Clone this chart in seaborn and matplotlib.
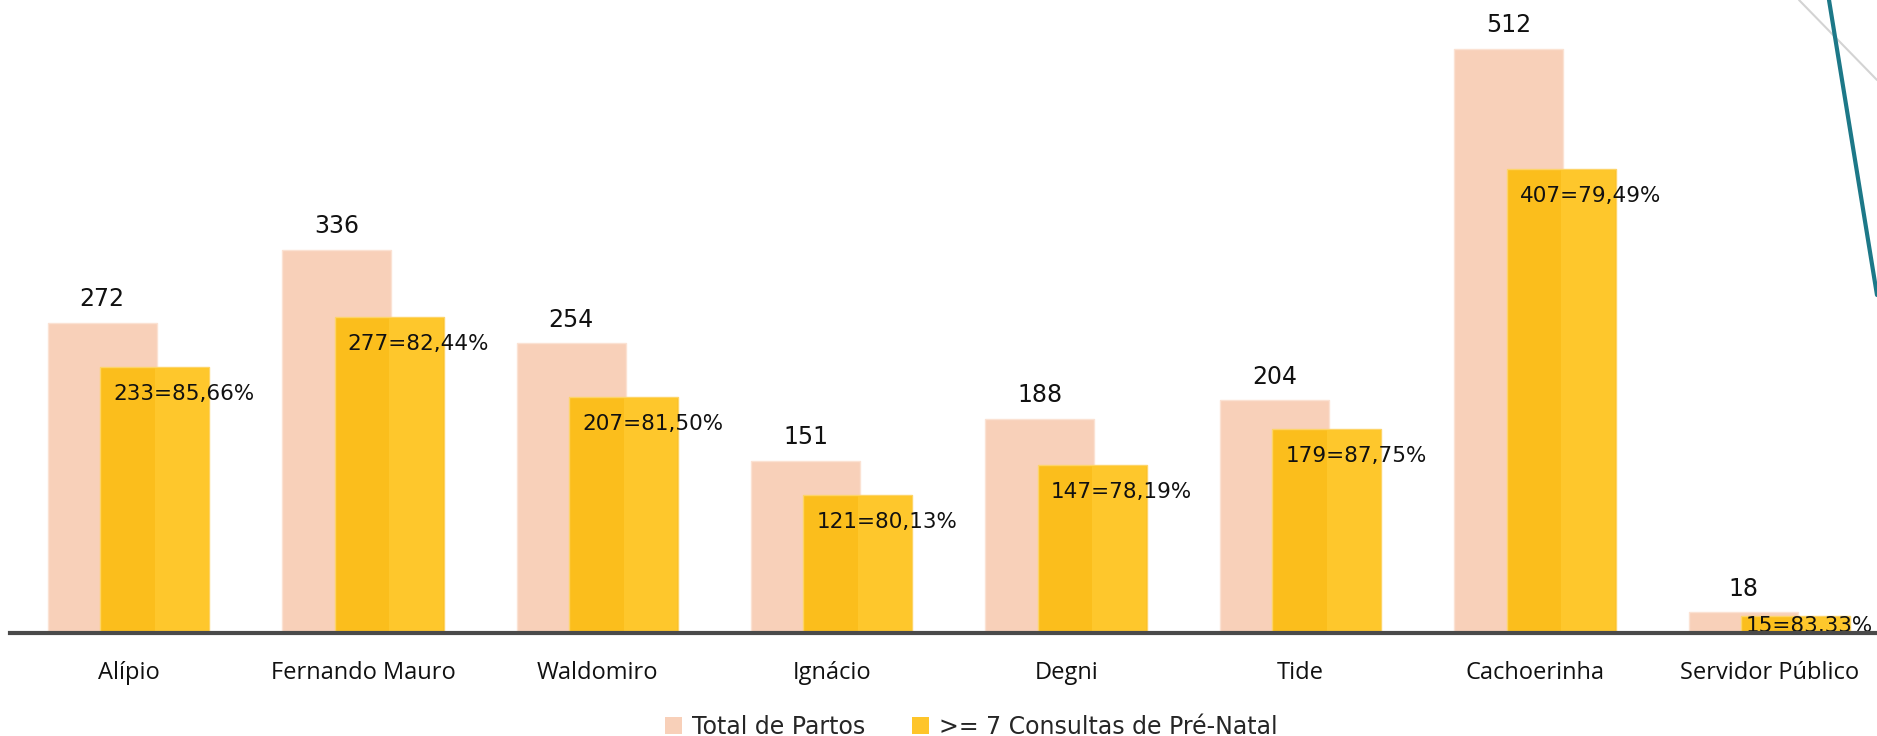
import pandas as pd
import matplotlib.pyplot as plt
import seaborn as sns
from matplotlib.lines import Line2D
from matplotlib.patches import Rectangle, Patch

# dados
unidades = ['Alípio', 'Fernando Mauro', 'Waldomiro', 'Ignácio', 'Degni', 'Tide', 'Cachoerinha', 'Servidor Público']
total_partos = [272, 336, 254, 151, 188, 204, 512, 18]
consultas_7 = [233, 277, 207, 121, 147, 179, 407, 15]
percentuais = ['85,66%', '82,44%', '81,50%', '80,13%', '78,19%', '87,75%', '79,49%', '83,33%']

df = pd.DataFrame({'Unidade': unidades, 'Total': total_partos, 'Consultas': consultas_7, 'Pct': percentuais})

COR_TOTAL = '#F8D0B9'
COR_CONS = '#FBBE1C'
COR_CONS_CLARO = '#FEC72C'

sns.set_style('white')
fig = plt.figure(figsize=(18.77, 7.36), dpi=100)
ax = fig.add_axes([10 / 1877, 103 / 736, 1 - 10 / 1877, 1 - 103 / 736])

larg = 0.465
desl = 0.112

sns.barplot(data=df, x='Unidade', y='Total', color=COR_TOTAL, width=larg, ax=ax,
            edgecolor='#FBE2D3', linewidth=1, saturation=1)
n = len(ax.patches)
sns.barplot(data=df, x='Unidade', y='Consultas', color=COR_CONS, width=larg, ax=ax,
            edgecolor='#FDD468', linewidth=1, saturation=1)

barras_total = ax.patches[:n]
barras_cons = ax.patches[n:2 * n]
for p in barras_total:
    p.set_x(p.get_x() - desl)
for p in barras_cons:
    p.set_x(p.get_x() + desl)

# metade direita um pouco mais clara
for p in barras_cons:
    w = p.get_width()
    ax.add_patch(Rectangle((p.get_x() + w / 2, 0), w / 2 - 0.003, p.get_height() - 0.8,
                           facecolor=COR_CONS_CLARO, edgecolor='none', zorder=p.get_zorder()))

ax.set_xlim(-0.5055, 7.459)
ax.set_ylim(0, 555)

# rotulos
for p, v in zip(barras_total, total_partos):
    ax.annotate(str(v), (p.get_x() + p.get_width() / 2, v), xytext=(0, 17),
                textcoords='offset points', ha='center', va='center',
                fontsize=17, family='DejaVu Sans', color='#111111')

fig.canvas.draw()
renderer = fig.canvas.get_renderer()
limite = ax.get_window_extent().x1 - 4
for p, v, pct in zip(barras_cons, consultas_7, percentuais):
    y = max(v - 23.7, v * 0.42)
    t = ax.text(p.get_x() + 0.056, y, f'{v}={pct}', ha='left', va='center',
                fontsize=15.5, family='DejaVu Sans', color='#111111', zorder=5)
    bb = t.get_window_extent(renderer)
    if bb.x1 > limite:
        dx = (bb.x1 - limite) / ax.get_window_extent().width * (ax.get_xlim()[1] - ax.get_xlim()[0])
        t.set_x(t.get_position()[0] - dx)

ax.set_xlabel('')
ax.set_ylabel('')
ax.set_yticks([])
ax.tick_params(axis='x', length=0, pad=20)
for lbl in ax.get_xticklabels():
    lbl.set_family('Open Sans')
    lbl.set_fontsize(17)
    lbl.set_color('#111111')

for s in ['top', 'right', 'left']:
    ax.spines[s].set_visible(False)
ax.spines['bottom'].set_color('#4A4A4A')
ax.spines['bottom'].set_linewidth(3)
ax.spines['bottom'].set_zorder(6)

handles = [Patch(facecolor=COR_TOTAL, edgecolor='none', label='Total de Partos'),
           Patch(facecolor='#FEC52A', edgecolor='none', label='>= 7 Consultas de Pré-Natal')]
fig.legend(handles=handles, loc='center', bbox_to_anchor=(0.5175, 9 / 736), ncol=2,
           frameon=False, prop={'family': 'DejaVu Sans', 'size': 17},
           handlelength=0.72, handleheight=0.72, handletextpad=0.42, columnspacing=2.0,
           borderpad=0, borderaxespad=0)

# linhas decorativas no canto
fig.add_artist(Line2D([1799 / 1877, 1.0], [1.0, 1 - 80 / 736], color='#D3D3D3', lw=1.5))
fig.add_artist(Line2D([1829 / 1877, 1.0], [1.0, 1 - 295 / 736], color='#1D7888', lw=3))

plt.savefig('out.png', dpi=100)
